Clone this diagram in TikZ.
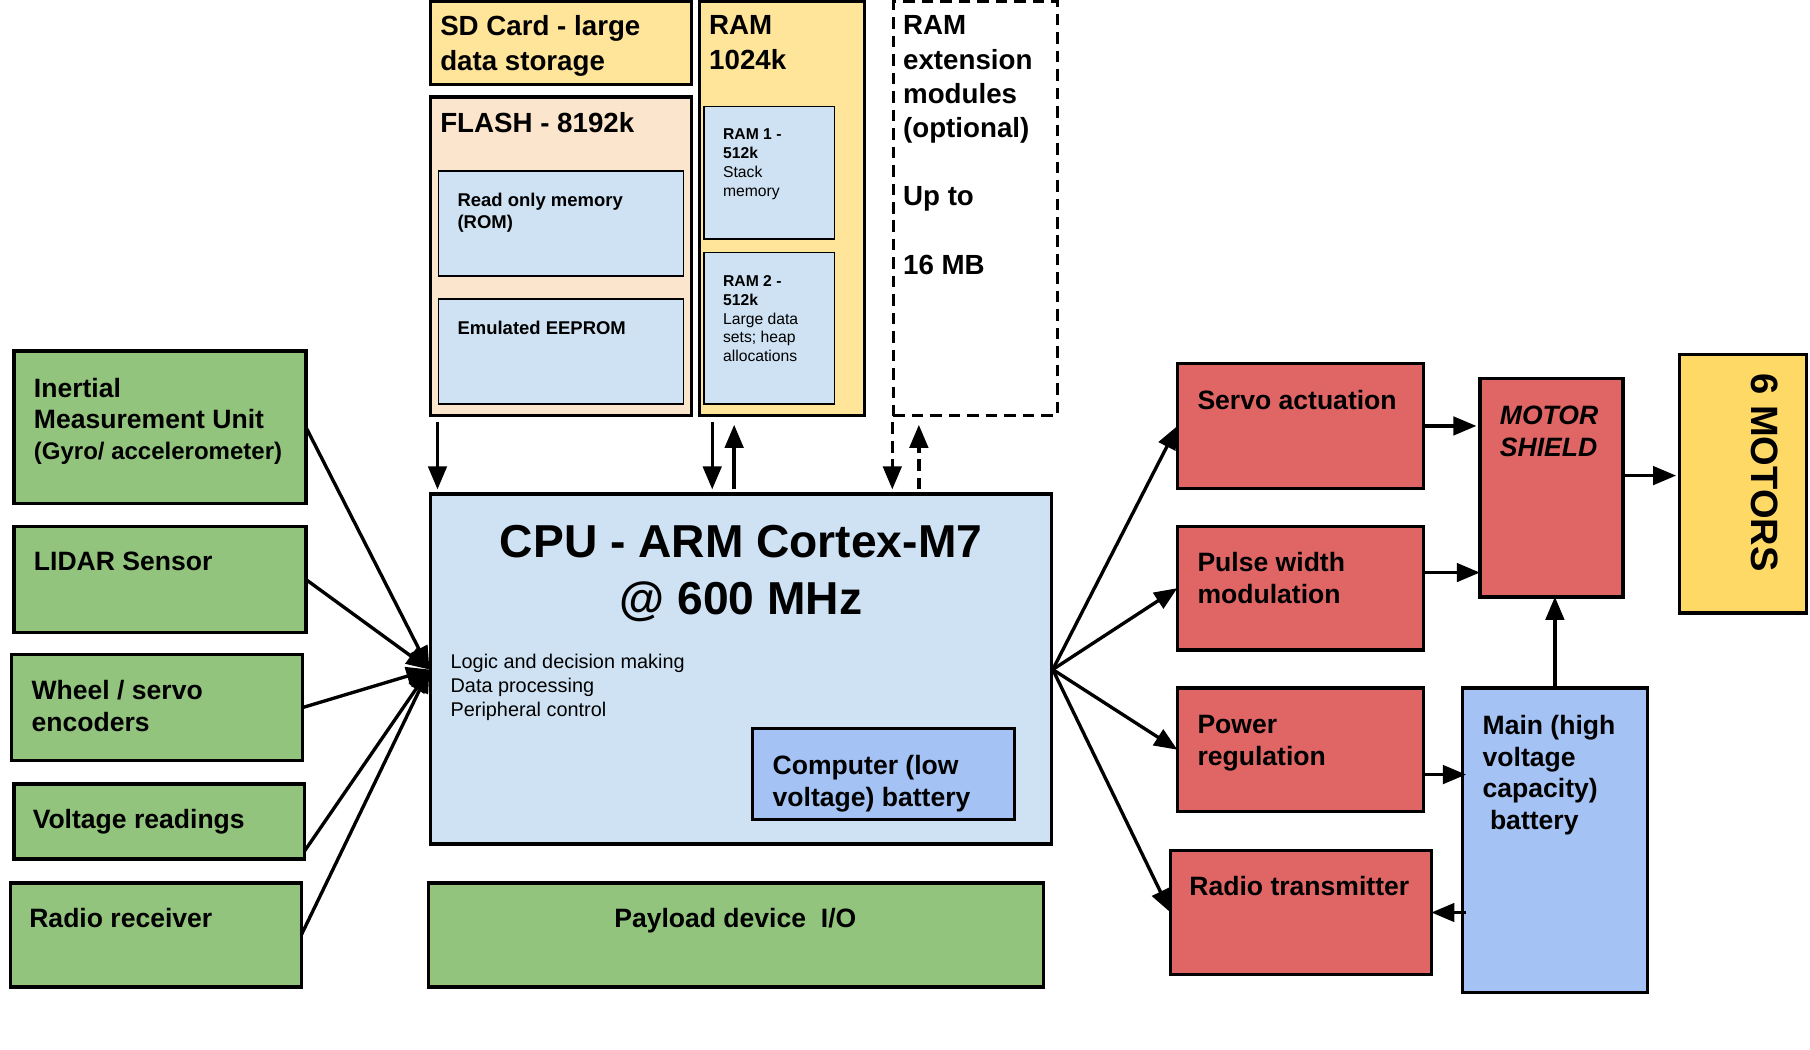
\documentclass[tikz,border=0pt]{standalone}
\usepackage{fontspec}
\setmainfont{Liberation Sans}
\usetikzlibrary{arrows.meta,calc}
\definecolor{ylw}{HTML}{FFE599}
\definecolor{org}{HTML}{FCE5CD}
\definecolor{lb}{HTML}{CFE2F3}
\definecolor{bb}{HTML}{A4C2F4}
\definecolor{grn}{HTML}{93C47D}
\definecolor{rd}{HTML}{E06666}
\definecolor{mot}{HTML}{FFD966}
\newcommand\bx[6]{\node[#1, minimum width={((#5)-(#3))*0.5pt}, minimum height={((#6)-(#4))*0.5pt}] (#2) at ({((#3)+(#5))/2},{((#4)+(#6))/2}) {};}
\begin{document}
\begin{tikzpicture}[x=0.5pt,y=-0.5pt,
  box/.style={draw, line width=1.5pt, inner sep=0pt, outer sep=0pt},
  tbox/.style={draw, line width=0.6pt, fill=lb, inner sep=0pt, outer sep=0pt},
  txt/.style={anchor=north west, inner sep=0pt, align=left},
  fb/.style={font=\fontsize{11.5}{14}\selectfont\bfseries},
  fbig/.style={font=\fontsize{12}{15}\selectfont\bfseries},
  arr/.style={line width=1.45pt, -{Triangle[length=10pt,width=8pt]}},
  darr/.style={arr, dash pattern=on 5pt off 3pt}]
\useasboundingbox (0,0) rectangle (1568,909);
% memory blocks
\bx{box,fill=ylw}{sd}{373}{1.5}{599}{73}
\bx{box,fill=ylw}{ram}{606}{1.5}{749}{360}
\bx{box,fill=org}{flash}{373}{84}{599}{360}
\bx{tbox}{rom}{380}{148}{592}{239}
\bx{tbox}{eep}{380}{259}{592}{350}
\bx{tbox}{ramone}{610}{92}{723}{207}
\bx{tbox}{ramtwo}{610}{219}{723}{350}
\bx{box,dash pattern=on 5pt off 3pt}{ramext}{774}{1.5}{916}{360}
\node[txt,fbig] (sdt) at (381,13.4) {SD Card - large\\data storage};
\node[txt,fbig] (ramt) at (614,13.4) {RAM\\1024k};
\node[txt,fbig] (flasht) at (381,97.4) {FLASH - 8192k};
\node[txt,font=\fontsize{8}{9.5}\selectfont\bfseries] (romt) at (396,167) {Read only memory\\(ROM)};
\node[txt,font=\fontsize{8}{9.5}\selectfont\bfseries] (eept) at (396,278) {Emulated EEPROM};
\node[txt,font=\fontsize{6.8}{8.2}\selectfont] (ramonet) at (626,111) {\textbf{RAM 1 -}\\\textbf{512k}\\Stack\\memory};
\node[txt,font=\fontsize{6.8}{8.2}\selectfont] (ramtwot) at (626,238) {\textbf{RAM 2 -}\\\textbf{512k}\\Large data\\sets; heap\\allocations};
\node[txt,font=\fontsize{12}{14.8}\selectfont\bfseries] (ramextt) at (782,13.4) {RAM\\extension\\modules\\(optional)\\~\\Up to\\~\\16 MB};
% CPU
\bx{box,fill=lb}{cpu}{373}{428}{911}{731}
\node[anchor=north, inner sep=0pt, align=center, font=\fontsize{20}{24.5}\selectfont\bfseries] (cput) at (642,455) {CPU - ARM Cortex-M7\\@ 600 MHz};
\node[txt,font=\fontsize{8.6}{10.5}\selectfont] (cpud) at (390,566) {Logic and decision making\\Data processing\\Peripheral control};
\bx{box,fill=bb}{cbat}{652}{631}{879}{710}
\node[txt,fb] (cbatt) at (669,654) {Computer (low\\voltage) battery};
\bx{box,fill=grn}{pay}{371}{765}{904}{855}
\node[anchor=north, inner sep=0pt, fb] (payt) at (637,786) {Payload device\ \ I/O};
% inputs
\bx{box,fill=grn}{imu}{12}{304}{265}{436}
\bx{box,fill=grn}{lidar}{12}{456}{265}{548}
\bx{box,fill=grn}{wheel}{10}{567}{262}{659}
\bx{box,fill=grn}{volt}{12}{679}{264}{744}
\bx{box,fill=grn}{rrx}{9}{765}{261}{855}
\node[txt,font=\fontsize{11.5}{13.5}\selectfont\bfseries] (imut) at (29,327) {Inertial\\Measurement Unit\\{\fontsize{10.4}{13.5}\selectfont(Gyro/ accelerometer)}};
\node[txt,fb] (lidart) at (29,478) {LIDAR Sensor};
\node[txt,fb] (wheelt) at (27,589) {Wheel / servo\\encoders};
\node[txt,fb] (voltt) at (28,701) {Voltage readings};
\node[txt,fb] (rrxt) at (25,786) {Radio receiver};
% outputs
\bx{box,fill=rd}{servo}{1020}{315}{1233}{423}
\bx{box,fill=rd}{pwm}{1020}{456}{1233}{563}
\bx{box,fill=rd}{pwr}{1020}{596}{1233}{703}
\bx{box,fill=rd}{rtx}{1014}{737}{1240}{844}
\bx{box,fill=rd}{shield}{1282}{328}{1406}{517}
\bx{box,fill=mot}{motors}{1455}{307}{1565}{531}
\bx{box,fill=bb}{mbat}{1267}{596}{1427}{860}
\node[txt,fb] (servot) at (1037,338) {Servo actuation};
\node[txt,fb] (pwmt) at (1037,478) {Pulse width\\modulation};
\node[txt,fb] (pwrt) at (1037,619) {Power\\regulation};
\node[txt,fb] (rtxt) at (1030,759) {Radio transmitter};
\node[txt,fb,font=\fontsize{11.5}{14}\selectfont\bfseries\itshape] (shieldt) at (1299,351) {MOTOR\\SHIELD};
\node[txt,font=\fontsize{11.5}{13.8}\selectfont\bfseries] (mbatt) at (1284,619) {Main (high\\voltage\\capacity)\\\ battery};
\node[txt,rotate=-90,font=\fontsize{16.5}{20}\selectfont\bfseries] (motorst) at (1541,323) {6 MOTORS};
% helper coordinates
\coordinate (cpuin) at (372,580);
\coordinate (cpuout) at (912,580);
\coordinate (ya) at (0,412);
\coordinate (yb) at (0,496);
\coordinate (yc) at (0,671);
% input arrows
\draw[arr] (imu.east) -- (cpuin);
\draw[arr] (lidar.east) -- (cpuin);
\draw[arr] (wheel.east) -- (cpuin);
\draw[arr] ($(volt.south east)+(0,-7)$) -- (cpuin);
\draw[arr] (rrx.east) -- (cpuin);
% output arrows
\draw[arr] (cpuout) -- (servo.west);
\draw[arr] (cpuout) -- (pwm.west);
\draw[arr] (cpuout) -- (pwr.west);
\draw[arr] (cpuout) -- (rtx.west);
\draw[arr] (servo.east) -- ($(servo.east -| shield.west)+(-3,0)$);
\draw[arr] (pwm.east |- yb) -- (shield.west |- yb);
\draw[arr] (shield.east |- ya) -- ($(motors.west |- ya)+(-3,0)$);
\draw[arr] (pwr.east |- yc) -- ($(mbat.west |- yc)+(3,0)$);
\draw[arr] ($(mbat.west |- rtx.east)+(3,0)$) -- (rtx.east);
\draw[arr] (mbat.north) -- (mbat.north |- shield.south);
% memory arrows
\draw[arr] ($(flash.south west)+(6,6)$) -- ($(cpu.north west)+(6,-4)$);
\draw[arr] ($(ram.south west)+(11,6)$) -- ($(cpu.north west)+(244,-4)$);
\draw[arr] ($(cpu.north west)+(263,-4)$) -- ($(ram.south west)+(30,8)$);
\draw[darr] ($(ramext.south west)+(-1,6)$) -- ($(cpu.north west)+(400,-4)$);
\draw[darr] ($(cpu.north west)+(423,-4)$) -- ($(ramext.south west)+(22,8)$);
\end{tikzpicture}
\end{document}
